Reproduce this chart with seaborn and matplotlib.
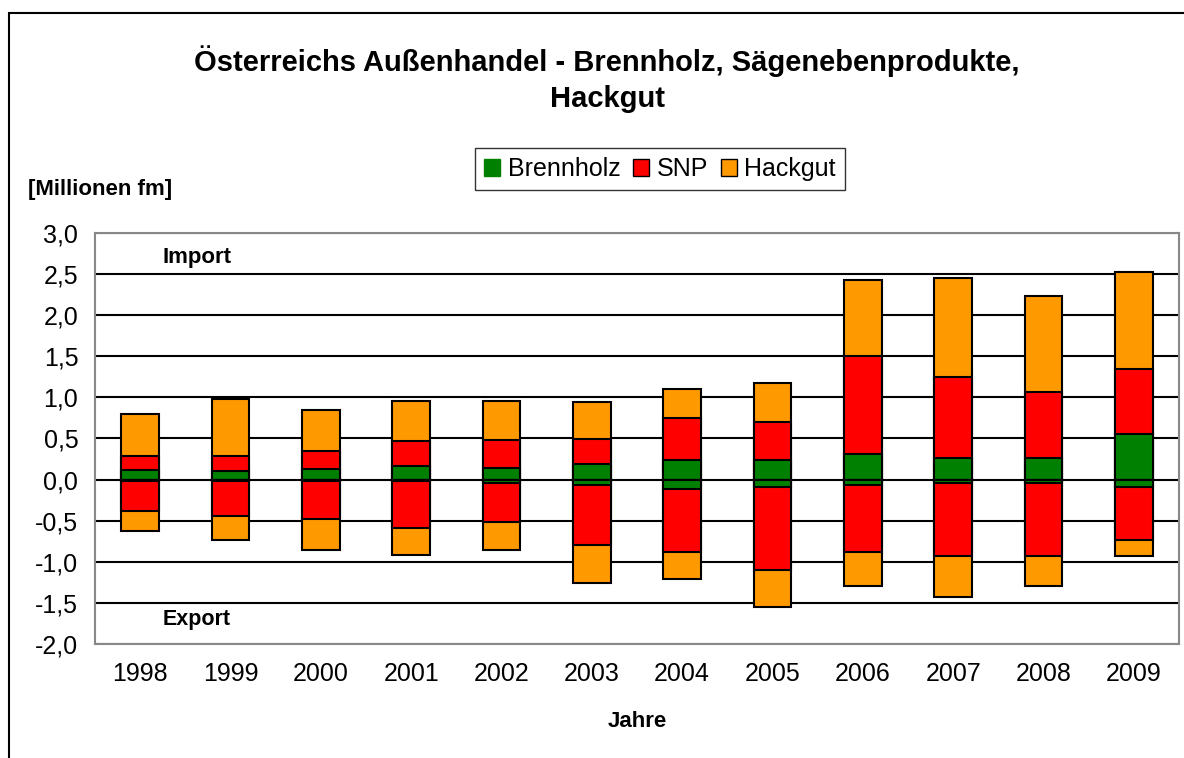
#!/usr/bin/env python3

import numpy as np
import pandas as pd
from matplotlib import pyplot as plt
from matplotlib.patches import Patch, Rectangle
from matplotlib.ticker import FuncFormatter, MultipleLocator
import seaborn as sns

# Werte in Millionen fm
years = ['1998', '1999', '2000', '2001', '2002', '2003',
         '2004', '2005', '2006', '2007', '2008', '2009']
import_brennholz = [0.12, 0.10, 0.13, 0.17, 0.14, 0.195, 0.24, 0.24, 0.31, 0.265, 0.265, 0.56]
import_snp = [0.17, 0.19, 0.215, 0.30, 0.34, 0.295, 0.51, 0.46, 1.19, 0.985, 0.80, 0.79]
import_hackgut = [0.51, 0.69, 0.50, 0.49, 0.48, 0.45, 0.355, 0.48, 0.93, 1.20, 1.17, 1.18]
export_brennholz = [-0.02, -0.02, -0.02, -0.02, -0.04, -0.07, -0.115, -0.09, -0.07, -0.04, -0.04, -0.09]
export_snp = [-0.36, -0.42, -0.455, -0.57, -0.48, -0.73, -0.77, -1.01, -0.81, -0.89, -0.89, -0.64]
export_hackgut = [-0.24, -0.30, -0.38, -0.33, -0.335, -0.46, -0.33, -0.45, -0.41, -0.50, -0.36, -0.20]

c_green = '#008000'
c_red = '#FF0000'
c_orange = '#FF9900'

sns.set_style('white')
plt.rcParams['font.family'] = ['Liberation Sans', 'DejaVu Sans']
plt.rcParams['text.color'] = 'black'
plt.rcParams['axes.labelcolor'] = 'black'
plt.rcParams['xtick.color'] = 'black'
plt.rcParams['ytick.color'] = 'black'

# gestapelt: Summen von hinten nach vorne zeichnen
df = pd.DataFrame({
    'Jahr': years,
    'imp_b': import_brennholz,
    'imp_bs': np.add(import_brennholz, import_snp),
    'imp_all': np.add(np.add(import_brennholz, import_snp), import_hackgut),
    'exp_b': export_brennholz,
    'exp_bs': np.add(export_brennholz, export_snp),
    'exp_all': np.add(np.add(export_brennholz, export_snp), export_hackgut),
})

fig = plt.figure(figsize=(11.84, 7.58), dpi=100)
ax = fig.add_axes([95 / 1184, 1 - 644 / 758, (1179 - 95) / 1184, (644 - 233) / 758])

ax.yaxis.set_major_locator(MultipleLocator(0.5))
ax.grid(axis='y', color='black', linewidth=1.5, zorder=0)
ax.set_axisbelow(True)

layers = [('imp_all', c_orange), ('imp_bs', c_red), ('imp_b', c_green),
          ('exp_all', c_orange), ('exp_bs', c_red), ('exp_b', c_green)]
for col, colour in layers:
    sns.barplot(data=df, x='Jahr', y=col, color=colour, saturation=1,
                edgecolor='black', linewidth=1.5, width=0.42,
                errorbar=None, ax=ax)

ax.set_ylim(-2.0, 3.0)
ax.set_xlim(-0.5, len(years) - 0.5)
ax.yaxis.set_major_formatter(FuncFormatter(lambda v, p: f'{v:.1f}'.replace('.', ',')))
ax.tick_params(axis='both', length=0, labelsize=18)
ax.tick_params(axis='y', pad=12)
ax.tick_params(axis='x', pad=13)
ax.set_xlabel('Jahre', fontsize=16, fontweight='bold', labelpad=18)
ax.set_ylabel('')
for s in ax.spines.values():
    s.set_color('#888888')
    s.set_linewidth(1.5)

fig.text(163 / 1184, 1 - 258 / 758, 'Import', fontsize=16, fontweight='bold', va='center', ha='left')
fig.text(163 / 1184, 1 - 620 / 758, 'Export', fontsize=15.5, fontweight='bold', va='center', ha='left')
fig.text(28 / 1184, 1 - 190 / 758, '[Millionen fm]', fontsize=16, fontweight='bold', va='center', ha='left')

fig.text(607 / 1184, 1 - 79 / 758,
         'Österreichs Außenhandel - Brennholz, Sägenebenprodukte,\nHackgut',
         fontsize=21, fontweight='bold', ha='center', va='center', linespacing=1.35)

handles = [Patch(facecolor=c_green, edgecolor=c_green),
           Patch(facecolor=c_red, edgecolor='black'),
           Patch(facecolor=c_orange, edgecolor='black')]
leg = fig.legend(handles, ['Brennholz', 'SNP', 'Hackgut'], ncol=3, loc='center',
                 bbox_to_anchor=(660 / 1184, 1 - 169 / 758), fontsize=18,
                 frameon=True, fancybox=False, handlelength=0.65, handleheight=0.65,
                 handletextpad=0.3, columnspacing=0.5, borderpad=0.35)
leg.get_frame().set_edgecolor('black')
leg.get_frame().set_linewidth(1.0)

fig.patches.append(Rectangle((8.5 / 1184, -0.05), 1.1, 1 - 13 / 758 + 0.05,
                             transform=fig.transFigure, fill=False,
                             edgecolor='black', linewidth=1.5))

plt.savefig('out.png', dpi=100)
